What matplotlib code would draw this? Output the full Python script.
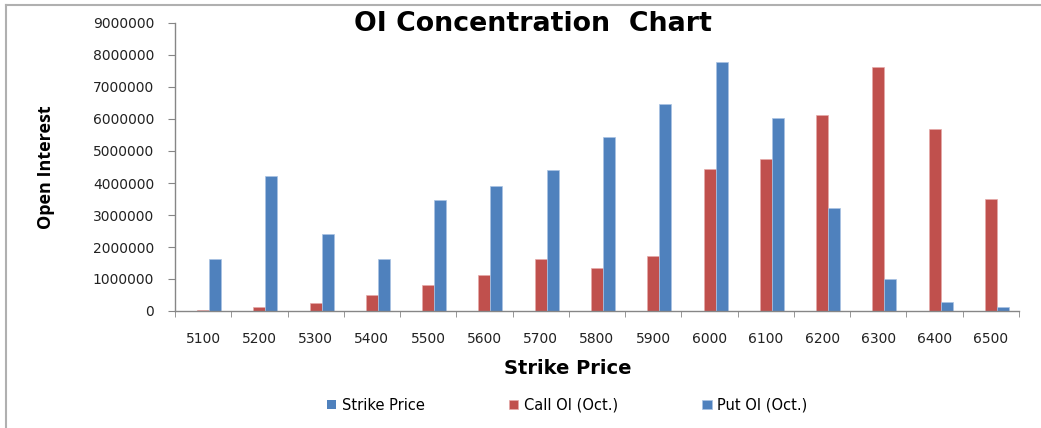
import matplotlib
matplotlib.use("Agg")
import matplotlib.pyplot as plt
from matplotlib.lines import Line2D
import numpy as np

strikes = [5100, 5200, 5300, 5400, 5500, 5600, 5700, 5800, 5900, 6000, 6100, 6200, 6300, 6400, 6500]
call_oi = [45000, 140000, 250000, 490000, 800000, 1130000, 1610000, 1330000, 1720000,
           4450000, 4760000, 6110000, 7620000, 5680000, 3500000]
put_oi = [1640000, 4210000, 2420000, 1640000, 3460000, 3900000, 4410000, 5440000, 6460000,
          7780000, 6030000, 3230000, 1010000, 290000, 110000]
yticks = [0, 1000000, 2000000, 3000000, 4000000, 5000000, 6000000, 7000000, 8000000, 9000000]

BLUE = "#4F81BD"
RED = "#C0504D"
GRAY = "#868686"

fig = plt.figure(figsize=(10.41, 4.28), dpi=100)
ax = fig.add_axes([175/1041, 1-311/428, (1019-175)/1041, (311-23)/428])

x = np.arange(len(strikes))
w = 0.213
ax.bar(x - w, strikes, w, color=BLUE, label="Strike Price")
ax.bar(x, call_oi, w, color=RED, edgecolor="#E6A9A8", linewidth=0.5, label="Call OI (Oct.)")
ax.bar(x + w, put_oi, w, color=BLUE, edgecolor="#A9C3E3", linewidth=0.5, label="Put OI (Oct.)")

ax.set_xlim(-0.5, len(strikes) - 0.5)
ax.set_ylim(0, 9000000)
ax.set_yticks(yticks)
ax.set_yticklabels([str(v) for v in yticks], fontsize=10, family="DejaVu Sans", color="#222222")
ax.set_xticks(x)
ax.set_xticklabels([str(s) for s in strikes], fontsize=10, family="DejaVu Sans", color="#222222")
ax.set_xticks(np.arange(-0.5, len(strikes)), minor=True)
ax.tick_params(axis="x", which="major", length=0, pad=15)
ax.tick_params(axis="x", which="minor", length=4.5, color=GRAY, direction="out")
ax.tick_params(axis="y", length=5, color=GRAY, direction="out", pad=10)

for s in ["top", "right"]:
    ax.spines[s].set_visible(False)
for s in ["left", "bottom"]:
    ax.spines[s].set_color(GRAY)
    ax.spines[s].set_linewidth(1.0)

fig.text(533/1041, 1-24/428, "OI Concentration  Chart", ha="center", va="center",
         fontsize=19.3, fontweight="bold", family="DejaVu Sans")
fig.text(568/1041, 1-369/428, "Strike Price", ha="center", va="center",
         fontsize=14, fontweight="bold", family="DejaVu Sans")
fig.text(46/1041, 1-167/428, "Open Interest", ha="center", va="center", rotation=90,
         fontsize=13, fontweight="bold", family="Open Sans")

leg = fig.legend(loc="center", bbox_to_anchor=(567/1041, 1-405/428), ncol=3, frameon=False,
                 prop={"family": "DejaVu Sans", "size": 10.5}, handlelength=0.65, handleheight=0.65,
                 handletextpad=0.35, columnspacing=5.8)

fig.add_artist(Line2D([6/1041, 1], [1-5/428, 1-5/428], color="#B0B0B0", linewidth=1.5))
fig.add_artist(Line2D([6/1041, 6/1041], [0, 1-5/428], color="#B0B0B0", linewidth=1.5))

fig.savefig("out.png", dpi=100)
